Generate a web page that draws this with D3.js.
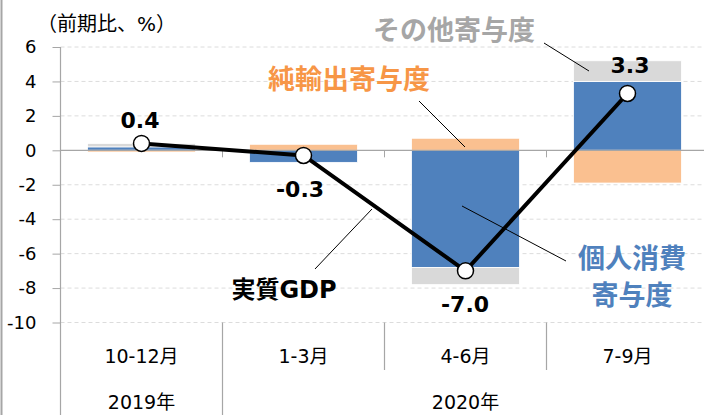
<!DOCTYPE html>
<html><head><meta charset="utf-8">
<script src="https://cdn.jsdelivr.net/npm/d3@7"></script>
<style>
html,body{margin:0;padding:0;background:#fff;}
svg{display:block;font-family:"DejaVu Sans","Noto Sans CJK JP",sans-serif;}
</style></head>
<body><svg id="c" width="704" height="415"></svg>
<script>
const categories = ["10-12月", "1-3月", "4-6月", "7-9月"];
const years = [{label: "2019年", from: 0, to: 1}, {label: "2020年", from: 1, to: 4}];
const consumption = [0.2, -0.7, -6.8, 4.0];   // 個人消費寄与度
const netExports = [-0.1, 0.35, 0.7, -1.9];   // 純輸出寄与度
const others = [0.2, 0.0, -1.0, 1.2];         // その他寄与度
const gdp = [0.4, -0.3, -7.0, 3.3];           // 実質GDP
const gdpLabels = ["0.4", "-0.3", "-7.0", "3.3"];
const yTicks = [6, 4, 2, 0, -2, -4, -6, -8, -10];

const FONT = "'DejaVu Sans','Noto Sans CJK JP',sans-serif";
const svg = d3.select("#c");
const W = 704, H = 415;
const x = d3.scaleBand().domain(categories).range([60.5, 708.5]).paddingInner(1/3).paddingOuter(1/6);
const y = d3.scaleLinear().domain([-10, 6]).range([322.5, 47]);
const step = x.step();
const x0 = x.range()[0];

// left border
svg.append("line").attr("x1", 1.5).attr("x2", 1.5).attr("y1", 0).attr("y2", H)
  .attr("stroke", "#a6a6a6").attr("stroke-width", 2);

// gridlines
svg.append("g").selectAll("line").data(yTicks.filter(d => d !== 0)).join("line")
  .attr("x1", x0).attr("x2", W).attr("y1", d => y(d)).attr("y2", d => y(d))
  .attr("stroke", "#dcdcdc").attr("stroke-width", 1).attr("stroke-dasharray", "4,3");

// stacked bars
const rows = categories.map((c, i) => ({cat: c, consumption: consumption[i], netExports: netExports[i], others: others[i]}));
const keys = ["consumption", "netExports", "others"];
const colors = {consumption: "#4f81bd", netExports: "#fac090", others: "#d9d9d9"};
const series = d3.stack().keys(keys).offset(d3.stackOffsetDiverging)(rows);
svg.append("g").selectAll("g").data(series).join("g")
  .attr("fill", s => colors[s.key])
  .selectAll("rect").data(s => s).join("rect")
  .attr("x", d => x(d.data.cat)).attr("width", x.bandwidth())
  .attr("y", d => y(Math.max(d[0], d[1])))
  .attr("height", d => Math.abs(y(d[0]) - y(d[1])))
  .attr("stroke", "#fff").attr("stroke-width", 0.8);

// zero line
svg.append("line").attr("x1", x0).attr("x2", W).attr("y1", y(0)).attr("y2", y(0))
  .attr("stroke", "#a6a6a6").attr("stroke-width", 1.2);
// category ticks on zero line
svg.append("g").selectAll("line").data(d3.range(1, categories.length)).join("line")
  .attr("x1", i => x0 + i * step).attr("x2", i => x0 + i * step)
  .attr("y1", y(0)).attr("y2", y(0) + 7).attr("stroke", "#a6a6a6");

// y axis
const yAxis = svg.append("g").attr("transform", `translate(${x0},0)`)
  .call(d3.axisLeft(y).tickValues(yTicks).tickSize(8).tickPadding(16).tickFormat(d => String(d)));
yAxis.select(".domain").remove();
yAxis.selectAll(".tick line").attr("stroke", "#a6a6a6");
yAxis.selectAll(".tick text").attr("font-size", 18).attr("fill", "#000").attr("font-family", FONT);
svg.append("line").attr("x1", x0).attr("x2", x0).attr("y1", y(6)).attr("y2", H)
  .attr("stroke", "#a6a6a6").attr("stroke-width", 1.2);

// category separators below plot
svg.append("g").selectAll("line").data(d3.range(1, categories.length)).join("line")
  .attr("x1", i => x0 + i * step).attr("x2", i => x0 + i * step)
  .attr("y1", y(-10)).attr("y2", i => years.some(g => g.from === i) ? H : 370)
  .attr("stroke", "#a6a6a6").attr("stroke-width", 1.2);

// category labels
svg.append("g").selectAll("text").data(categories).join("text")
  .attr("x", d => x(d) + x.bandwidth() / 2).attr("y", 363)
  .attr("text-anchor", "middle").attr("font-size", 19).text(d => d);
svg.append("g").selectAll("text").data(years).join("text")
  .attr("x", g => x0 + (g.from + g.to) / 2 * step).attr("y", 409)
  .attr("text-anchor", "middle").attr("font-size", 19).text(g => g.label);

// unit label
svg.append("text").attr("x", 37).attr("y", 31).attr("font-size", 20).text("（前期比、%）");

// leader lines
const leaders = [
  [544, 43, 589, 71],
  [419, 101, 465, 147],
  [462, 206, 566, 261],
  [315, 269, 372, 209]
];
svg.append("g").selectAll("line").data(leaders).join("line")
  .attr("x1", d => d[0]).attr("y1", d => d[1]).attr("x2", d => d[2]).attr("y2", d => d[3])
  .attr("stroke", "#000").attr("stroke-width", 1);

// GDP line
const cx = (d, i) => x(categories[i]) + x.bandwidth() / 2;
svg.append("path").datum(gdp)
  .attr("d", d3.line().x((d, i) => cx(d, i)).y(d => y(d)))
  .attr("fill", "none").attr("stroke", "#000").attr("stroke-width", 4);
svg.append("g").selectAll("circle").data(gdp).join("circle")
  .attr("cx", cx).attr("cy", d => y(d)).attr("r", 8)
  .attr("fill", "#fff").attr("stroke", "#000").attr("stroke-width", 1.5);

// data labels
const labelPos = [[140, 128], [300, 197], [465, 312], [630, 73]];
svg.append("g").selectAll("text").data(gdpLabels).join("text")
  .attr("x", (d, i) => labelPos[i][0]).attr("y", (d, i) => labelPos[i][1])
  .attr("text-anchor", "middle").attr("font-size", 22).attr("font-weight", "bold").text(d => d);

// series annotations
const ann = [
  {t: "その他寄与度", x: 454, y: 30, c: "#a6a6a6"},
  {t: "純輸出寄与度", x: 349, y: 79, c: "#f79646"},
  {t: "個人消費", x: 632, y: 258, c: "#4f81bd"},
  {t: "寄与度", x: 632, y: 295, c: "#4f81bd"},
  {t: "実質GDP", x: 284, y: 289, c: "#000"}
];
svg.append("g").selectAll("text").data(ann).join("text")
  .attr("x", d => d.x).attr("y", d => d.y).attr("dy", "0.36em")
  .attr("text-anchor", "middle").attr("font-size", d => d.t === "実質GDP" ? 24 : 27)
  .attr("font-weight", "bold").attr("fill", d => d.c).text(d => d.t);
</script></body></html>
